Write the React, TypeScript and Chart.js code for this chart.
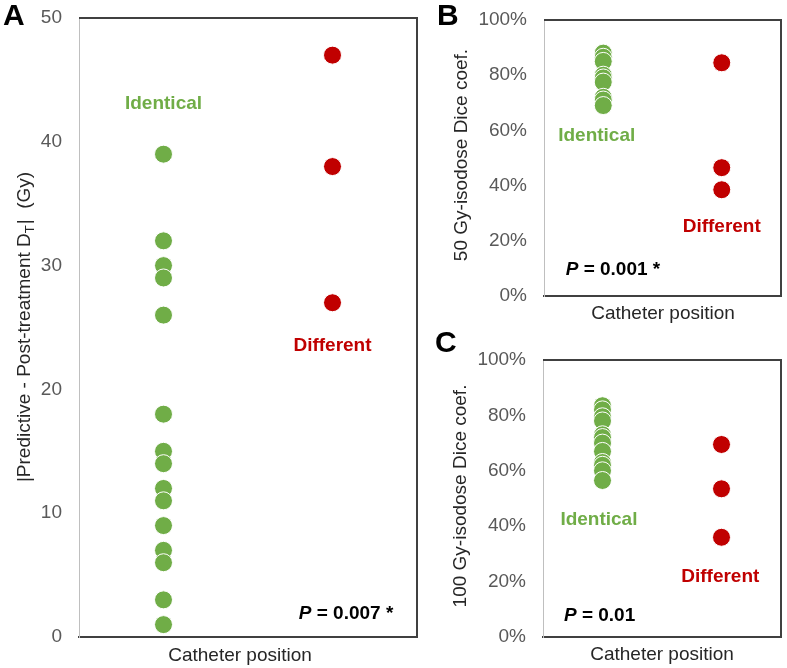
import React, { useEffect, useRef } from "react";
import { Chart, registerables } from "chart.js";

Chart.register(...registerables);

const FONT = "'Liberation Sans', Arial, Helvetica, sans-serif";
const GREEN = "#70AD47";
const RED = "#C00000";
const TICK_COLOR = "#595959";
const TITLE_COLOR = "#262626";

// ---- data ----
const categories = ["Identical", "Different"];
const categoryX = [1, 2];

const aIdentical = [39, 32, 30, 29, 26, 18, 15, 14, 12, 11, 9, 7, 6, 3, 1];
const aDifferent = [47, 38, 27];

const bIdentical = [88, 86.5, 85, 80, 79, 77.5, 72, 71, 69];
const bDifferent = [84.5, 46.5, 38.5];

const cIdentical = [83.5, 82, 79.5, 78, 73, 72, 70, 67, 63, 62, 60, 56.5];
const cDifferent = [69.5, 53.5, 36];

const aTicks = [0, 10, 20, 30, 40, 50];
const pctTicks = [0, 20, 40, 60, 80, 100];

const pValues = ["0.007 *", "0.001 *", "0.01"];
const letters = ["A", "B", "C"];
const yTitles = ["|Predictive - Post-treatment D", "50 Gy-isodose Dice coef.", "100 Gy-isodose Dice coef."];
const xTitle = "Catheter position";

type Panel = {
  letter: string;
  left: number;
  top: number;
  w: number;
  h: number;
  pad: { top: number; right: number; left: number; bottom: number };
  yw: number;
  xh: number;
  identical: number[];
  different: number[];
  ticks: number[];
  pct: boolean;
  yTitle: string;
  sub?: string;
  yTitleRest?: string;
  letterPos: [number, number];
  yTitlePos: [number, number];
  xTitlePos: [number, number];
  identPos: [number, number];
  diffPos: [number, number];
  pPos: [number, number];
  pAlign: "left" | "right";
  pText: string;
};

const panels: Panel[] = [
  {
    letter: letters[0],
    left: 0, top: 0, w: 425, h: 668,
    pad: { top: 18, right: 8, left: 0, bottom: 0 },
    yw: 79, xh: 31,
    identical: aIdentical, different: aDifferent,
    ticks: aTicks, pct: false,
    yTitle: yTitles[0], sub: "T", yTitleRest: "|  (Gy)",
    letterPos: [3, 25],
    yTitlePos: [25, 327],
    xTitlePos: [240, 656],
    identPos: [1, 43.1],
    diffPos: [2, 23.5],
    pPos: [2.36, 1.9], pAlign: "right", pText: pValues[0],
  },
  {
    letter: letters[1],
    left: 425, top: 0, w: 362, h: 330,
    pad: { top: 20, right: 6, left: 0, bottom: 0 },
    yw: 119, xh: 34,
    identical: bIdentical, different: bDifferent,
    ticks: pctTicks, pct: true,
    yTitle: yTitles[1],
    letterPos: [12, 25],
    yTitlePos: [37, 155],
    xTitlePos: [238, 314],
    identPos: [0.945, 58],
    diffPos: [2.0, 25],
    pPos: [0.683, 9.4], pAlign: "left", pText: pValues[1],
  },
  {
    letter: letters[2],
    left: 425, top: 330, w: 362, h: 338,
    pad: { top: 30, right: 6, left: 0, bottom: 0 },
    yw: 118, xh: 31,
    identical: cIdentical, different: cDifferent,
    ticks: pctTicks, pct: true,
    yTitle: yTitles[2],
    letterPos: [10, 21.5],
    yTitlePos: [36, 166],
    xTitlePos: [237, 325],
    identPos: [0.97, 42.2],
    diffPos: [1.99, 21.8],
    pPos: [0.676, 7.6], pAlign: "left", pText: pValues[2],
  },
];

function makePlugin(p: Panel) {
  return {
    id: "annot" + p.letter,
    afterDraw(chart: any) {
      const ctx = chart.ctx as CanvasRenderingContext2D;
      const { left, right, top, bottom } = chart.chartArea;
      const xs = chart.scales.x;
      const ys = chart.scales.y;
      ctx.save();
      // top and right frame lines
      ctx.strokeStyle = "#404040";
      ctx.lineWidth = 2;
      ctx.beginPath();
      ctx.moveTo(left, top);
      ctx.lineTo(right, top);
      ctx.lineTo(right, bottom);
      ctx.stroke();

      // panel letter
      ctx.fillStyle = "#000";
      ctx.font = `bold 30px ${FONT}`;
      ctx.textAlign = "left";
      ctx.textBaseline = "alphabetic";
      ctx.fillText(p.letter, p.letterPos[0], p.letterPos[1]);

      // x title
      ctx.fillStyle = TITLE_COLOR;
      ctx.font = `19px ${FONT}`;
      ctx.textAlign = "center";
      ctx.textBaseline = "middle";
      ctx.fillText(xTitle, p.xTitlePos[0], p.xTitlePos[1]);

      // y title (rotated)
      ctx.save();
      ctx.translate(p.yTitlePos[0], p.yTitlePos[1]);
      ctx.rotate(-Math.PI / 2);
      ctx.textAlign = "left";
      ctx.textBaseline = "middle";
      const mainFont = `19px ${FONT}`;
      const subFont = `13px ${FONT}`;
      ctx.font = mainFont;
      const w1 = ctx.measureText(p.yTitle).width;
      let w2 = 0;
      let w3 = 0;
      if (p.sub) {
        ctx.font = subFont;
        w2 = ctx.measureText(p.sub).width + 1;
        ctx.font = mainFont;
        w3 = ctx.measureText(p.yTitleRest || "").width;
      }
      let sx = -(w1 + w2 + w3) / 2;
      ctx.font = mainFont;
      ctx.fillText(p.yTitle, sx, 0);
      sx += w1;
      if (p.sub) {
        ctx.font = subFont;
        ctx.fillText(p.sub, sx, 5);
        sx += w2;
        ctx.font = mainFont;
        ctx.fillText(p.yTitleRest || "", sx, 0);
      }
      ctx.restore();

      // category labels
      ctx.font = `bold 19px ${FONT}`;
      ctx.textAlign = "center";
      ctx.textBaseline = "middle";
      ctx.fillStyle = GREEN;
      ctx.fillText(categories[0], xs.getPixelForValue(p.identPos[0]), ys.getPixelForValue(p.identPos[1]));
      ctx.fillStyle = RED;
      ctx.fillText(categories[1], xs.getPixelForValue(p.diffPos[0]), ys.getPixelForValue(p.diffPos[1]));

      // P value
      ctx.fillStyle = "#000";
      const pItalic = `italic bold 19px ${FONT}`;
      const pBold = `bold 19px ${FONT}`;
      ctx.font = pItalic;
      const wp = ctx.measureText("P").width;
      ctx.font = pBold;
      const rest = " = " + p.pText;
      const wr = ctx.measureText(rest).width;
      const px = xs.getPixelForValue(p.pPos[0]);
      const py = ys.getPixelForValue(p.pPos[1]);
      const start = p.pAlign === "right" ? px - (wp + wr) : px;
      ctx.textAlign = "left";
      ctx.font = pItalic;
      ctx.fillText("P", start, py);
      ctx.font = pBold;
      ctx.fillText(rest, start + wp, py);
      ctx.restore();
    },
  };
}

function PanelChart({ p }: { p: Panel }) {
  const ref = useRef<HTMLCanvasElement | null>(null);
  useEffect(() => {
    if (!ref.current) return;
    const chart = new Chart(ref.current, {
      type: "scatter",
      data: {
        datasets: [
          {
            label: categories[0],
            data: p.identical.map((v) => ({ x: categoryX[0], y: v })),
            backgroundColor: GREEN,
            borderColor: "#ffffff",
            borderWidth: 1,
            pointRadius: 9,
          },
          {
            label: categories[1],
            data: p.different.map((v) => ({ x: categoryX[1], y: v })),
            backgroundColor: RED,
            borderColor: "#ffffff",
            borderWidth: 1,
            pointRadius: 9,
          },
        ],
      },
      options: {
        animation: false,
        responsive: false,
        events: [],
        layout: { padding: p.pad, autoPadding: false },
        plugins: { legend: { display: false }, tooltip: { enabled: false } },
        scales: {
          x: {
            type: "linear",
            min: 0.5,
            max: 2.5,
            ticks: { display: false },
            grid: { display: false, drawTicks: false },
            border: { color: "#404040", width: 2 },
            afterFit: (s: any) => {
              s.height = p.xh;
              s.paddingLeft = 0;
              s.paddingRight = 0;
              s.paddingTop = 0;
              s.paddingBottom = 0;
            },
          },
          y: {
            type: "linear",
            min: p.ticks[0],
            max: p.ticks[p.ticks.length - 1],
            afterBuildTicks: (s: any) => {
              s.ticks = p.ticks.map((v) => ({ value: v }));
            },
            ticks: {
              padding: 17,
              color: TICK_COLOR,
              font: { family: FONT, size: 19 },
              callback: (v: any) => (p.pct ? `${v}%` : `${v}`),
            },
            grid: { display: false, drawTicks: false },
            border: { color: "#bfbfbf", width: 1 },
            afterFit: (s: any) => {
              s.width = p.yw;
              s.paddingLeft = 0;
              s.paddingRight = 0;
              s.paddingTop = 0;
              s.paddingBottom = 0;
            },
          },
        },
      } as any,
      plugins: [makePlugin(p)],
    });
    return () => chart.destroy();
  }, [p]);
  return (
    <canvas
      ref={ref}
      width={p.w}
      height={p.h}
      style={{ position: "absolute", left: p.left, top: p.top, width: p.w, height: p.h, display: "block" }}
    />
  );
}

export default function App() {
  return (
    <div style={{ position: "absolute", left: 0, top: 0, width: 787, height: 668, background: "#fff" }}>
      {panels.map((p) => (
        <PanelChart key={p.letter} p={p} />
      ))}
    </div>
  );
}
